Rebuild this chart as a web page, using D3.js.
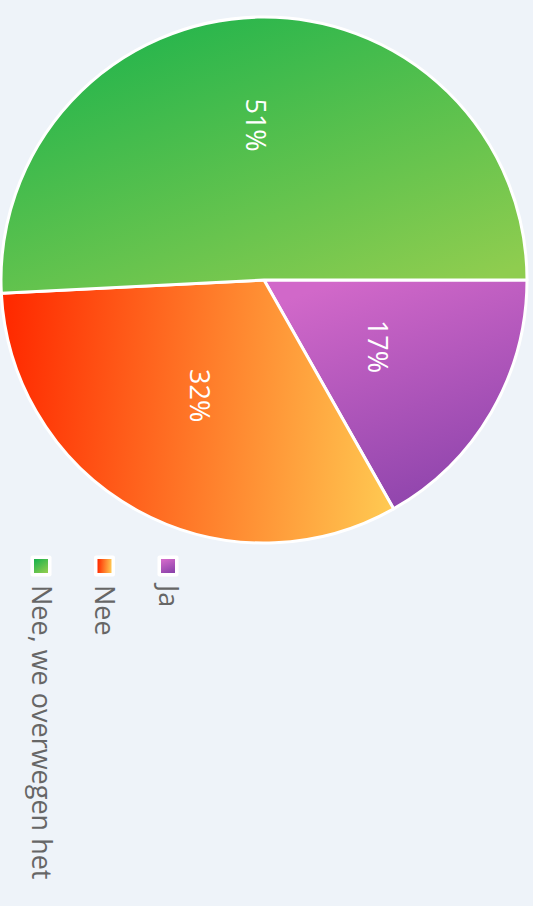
<!DOCTYPE html>
<html><head><meta charset="utf-8">
<script src="https://cdn.jsdelivr.net/npm/d3@7"></script>
<style>html,body{margin:0;padding:0;background:#eef3f9;}svg{display:block;}</style>
</head><body>
<svg id="c" width="533" height="906"></svg>
<script>
const categories = ["Ja", "Nee", "Nee, we overwegen het"];
const values = [16.8, 32.4, 50.8];
const colorStops = [["#d168c9", "#8c43ab"], ["#ff2a00", "#ffc851"], ["#1db34c", "#8fcd4f"]];

const svg = d3.select("#c");
const W = 533, H = 906;
svg.append("rect").attr("width", W).attr("height", H).attr("fill", "#eef3f9");

const cx = 264, cy = 280, R = 263;
const defs = svg.append("defs");
const dirs = [[0.3,0,0.7,1],[0,0.5,1,0.55],[0.15,0,0.85,1]];
colorStops.forEach((c, i) => {
  const g = defs.append("linearGradient").attr("id", "g" + i)
    .attr("x1", dirs[i][0]).attr("y1", dirs[i][1]).attr("x2", dirs[i][2]).attr("y2", dirs[i][3]);
  g.append("stop").attr("offset", 0).attr("stop-color", c[0]);
  g.append("stop").attr("offset", 1).attr("stop-color", c[1]);
});

const pie = d3.pie().sort(null).startAngle(Math.PI / 2).endAngle(Math.PI / 2 + 2 * Math.PI);
const arcs = pie(values);
const arc = d3.arc().innerRadius(0).outerRadius(R);
const g = svg.append("g").attr("transform", `translate(${cx},${cy})`);
g.selectAll("path").data(arcs).join("path")
  .attr("d", arc)
  .attr("fill", (d, i) => `url(#g${i})`)
  .attr("stroke", "#fff").attr("stroke-width", 3).attr("stroke-linejoin", "round");

const maxV = d3.max(values);
g.selectAll("text").data(arcs).join("text")
  .attr("transform", d => {
    const r = d.value === maxV ? 155 : 132;
    const a = (d.startAngle + d.endAngle) / 2;
    return `translate(${r * Math.sin(a) - (d.value === maxV ? 4 : 0)},${-r * Math.cos(a)}) rotate(90)`;
  })
  .attr("text-anchor", "middle").attr("dominant-baseline", "central")
  .attr("fill", "#fff").attr("font-family", "Open Sans, Noto Sans, sans-serif").attr("font-size", 27)
  .text(d => Math.round(d.value / d3.sum(values) * 100) + "%");

const leg = svg.append("g");
const lx = d3.scalePoint().domain(categories).range([168, 41]);
categories.forEach((c, i) => {
  const x = lx(c), y = 566;
  leg.append("rect").attr("x", x - 10.5).attr("y", y - 10.5).attr("width", 21).attr("height", 21)
    .attr("rx", 2).attr("fill", "#fff");
  leg.append("rect").attr("x", x - 7).attr("y", y - 7).attr("width", 14).attr("height", 14)
    .attr("fill", `url(#g${i})`);
  leg.append("text").attr("transform", `translate(${x + 1},${585}) rotate(90)`)
    .attr("dominant-baseline", "central").attr("fill", "#666")
    .attr("font-family", "Open Sans, Noto Sans, sans-serif").attr("font-size", 27)
    .text(c);
});
</script>
</body></html>
